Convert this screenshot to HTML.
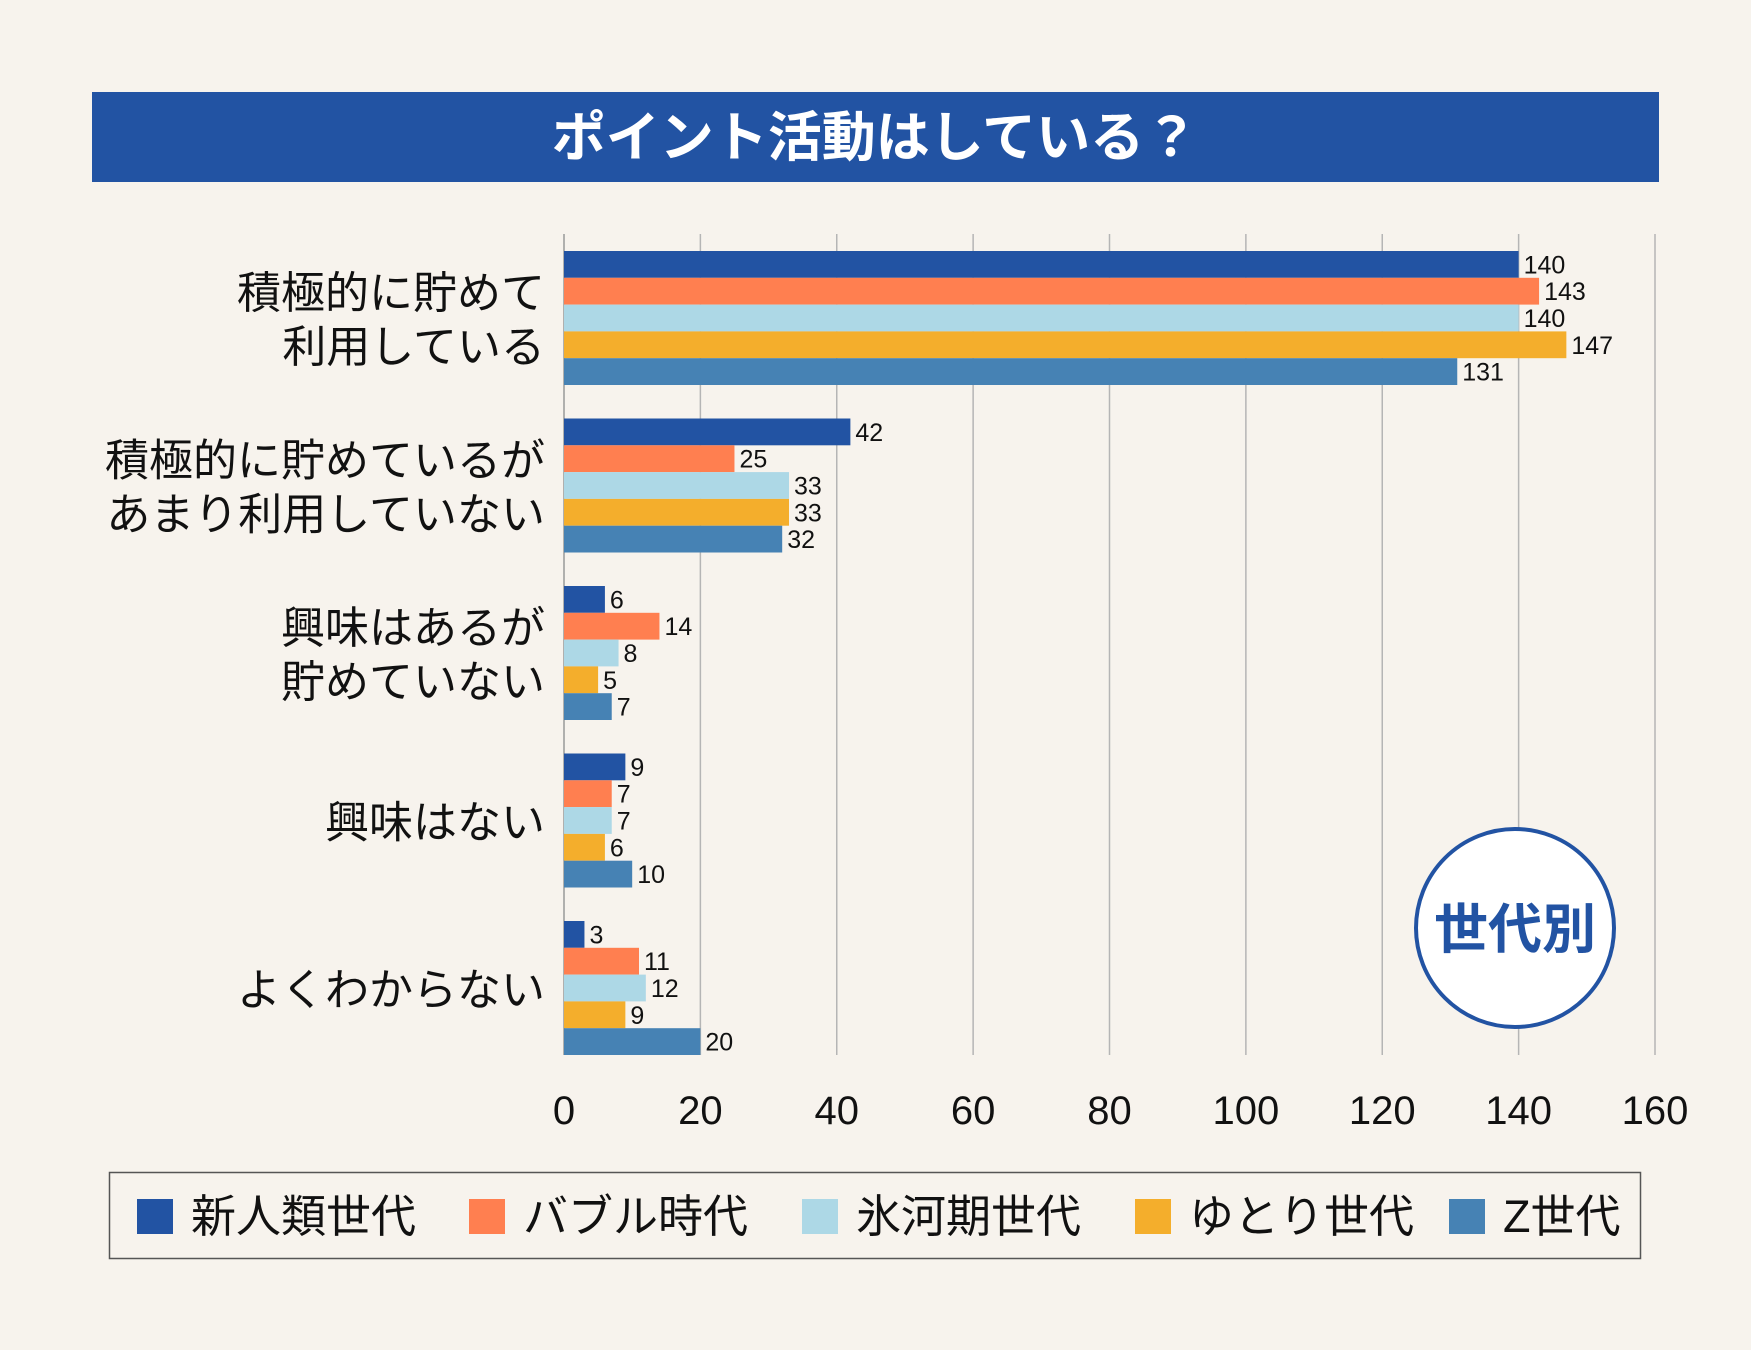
<!DOCTYPE html>
<html><head><meta charset="utf-8">
<style>
html,body{margin:0;padding:0;background:#f7f3ed;}
svg{display:block;}
text{font-family:"Liberation Sans","Noto Sans CJK JP",sans-serif;}
</style></head>
<body>
<svg id="chart" width="1751" height="1350" viewBox="0 0 1751 1350" xmlns="http://www.w3.org/2000/svg">
<rect x="0" y="0" width="1751" height="1350" fill="#f7f3ed"/>
<rect x="92" y="92" width="1567" height="90" fill="#2253a3"/>
<text x="875" y="156" text-anchor="middle" font-size="54" font-weight="bold" fill="#fff">ポイント活動はしている？</text>
<g id="grid"></g>
<g id="bars"></g>
<g id="cats"></g>
<g id="ticks"></g>
<circle cx="1515" cy="928" r="99" fill="#fff" stroke="#2253a3" stroke-width="4"/>
<text x="1515" y="948" text-anchor="middle" font-size="54" font-weight="bold" fill="#2253a3">世代別</text>
<rect x="109.5" y="1172.5" width="1531" height="86" fill="none" stroke="#555" stroke-width="1.5"/>
<g id="legend"></g>
</svg>
<script>
const categories=[["積極的に貯めて","利用している"],["積極的に貯めているが","あまり利用していない"],["興味はあるが","貯めていない"],["興味はない"],["よくわからない"]];
const seriesNames=["新人類世代","バブル時代","氷河期世代","ゆとり世代","Z世代"];
const s1=[140,42,6,9,3];
const s2=[143,25,14,7,11];
const s3=[140,33,8,7,12];
const s4=[147,33,5,6,9];
const s5=[131,32,7,10,20];
const ticks=[0,20,40,60,80,100,120,140,160];
const series=[s1,s2,s3,s4,s5];
const colors=["#2253a3","#ff7f50","#add8e6","#f4ae2c","#4682b4"];
const NS="http://www.w3.org/2000/svg";
const X0=564,X1=1655,XMAX=160;
function xs(v){return X0+(X1-X0)*v/XMAX;}
const G0=251,GSTEP=167.5,BH=26.8;
function mk(tag,attrs,parent){const e=document.createElementNS(NS,tag);for(const k in attrs)e.setAttribute(k,attrs[k]);document.getElementById(parent).appendChild(e);return e;}
ticks.forEach((t,i)=>{
  const l=mk('line',{x1:xs(t),x2:xs(t),y1:234,y2:1055,stroke:t===0?'#999':'#b5b5b5','stroke-width':1.5},'grid');
  
  
  const tx=mk('text',{x:xs(t),y:1124,'text-anchor':'middle','font-size':40,fill:'#111'},'ticks');
  tx.textContent=t;
  
  
});
categories.forEach((c,ci)=>{
  const gy=G0+ci*GSTEP;
  series.forEach((s,si)=>{
    const y=gy+si*BH;
    const r=mk('rect',{x:X0,y:y,width:xs(s[ci])-X0,height:BH,fill:colors[si]},'bars');
    
    
    const t=mk('text',{x:xs(s[ci])+5,y:y+BH/2+9,'font-size':25,fill:'#111'},'bars');
    t.textContent=s[ci];
    
    
  });
  const cy=gy+BH*2.5;
  const n=c.length;
  c.forEach((line,li)=>{
    const t=mk('text',{x:545,y:cy+(li-(n-1)/2)*54+17,'text-anchor':'end','font-size':44,fill:'#111'},'cats');
    t.textContent=line;
    
    
  });
});
const lsx=[137,469,802,1135,1449];
seriesNames.forEach((n,i)=>{
  const r=mk('rect',{x:lsx[i],y:1199,width:36,height:35,fill:colors[i]},'legend');
  
  
  const t=mk('text',{x:lsx[i]+54,y:1232,'font-size':45,fill:'#111'},'legend');
  t.textContent=n;
  
  
});
</script>
</body></html>
